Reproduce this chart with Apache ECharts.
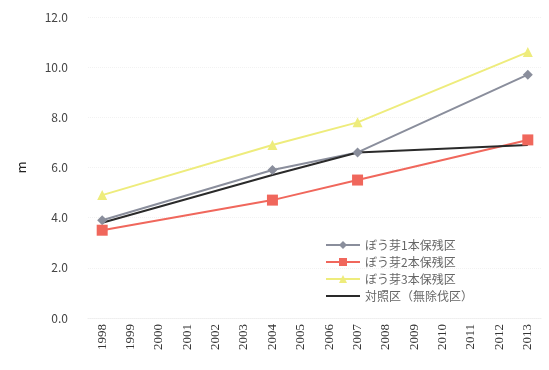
<!DOCTYPE html>
<html>
<head>
<meta charset="utf-8">
<script src="https://cdn.jsdelivr.net/npm/echarts@6/dist/echarts.min.js"></script>
<style>
  html, body { margin: 0; padding: 0; background: #fff; }
  #chart { width: 549px; height: 370px; }
</style>
</head>
<body>
<div id="chart"></div>
<script>
// Survey years on the category axis
const years = ['1998','1999','2000','2001','2002','2003','2004','2005','2006','2007','2008','2009','2010','2011','2012','2013'];

// Mean height (m) per plot; measured only in 1998, 2004, 2007 and 2013
const sprout1 = [3.9, null, null, null, null, null, 5.9, null, null, 6.6, null, null, null, null, null, 9.7];
const sprout2 = [3.5, null, null, null, null, null, 4.7, null, null, 5.5, null, null, null, null, null, 7.1];
const sprout3 = [4.9, null, null, null, null, null, 6.9, null, null, 7.8, null, null, null, null, null, 10.6];
const control = [3.8, null, null, null, null, null, 5.7, null, null, 6.6, null, null, null, null, null, 6.9];

const seriesNames = ['ぼう芽1本保残区', 'ぼう芽2本保残区', 'ぼう芽3本保残区', '対照区（無除伐区）'];

const chart = echarts.init(document.getElementById('chart'));

function lineSeries(name, data, color, symbol, size) {
  return {
    name: name,
    type: 'line',
    data: data,
    connectNulls: true,
    symbol: symbol,
    symbolSize: size,
    showSymbol: symbol !== 'none',
    lineStyle: { color: color, width: 2 },
    itemStyle: { color: color },
    z: 2
  };
}

chart.setOption({
  animation: false,
  textStyle: { fontFamily: '"Noto Sans CJK JP", "Open Sans", sans-serif' },
  grid: { left: 88, right: 7, top: 17, bottom: 52 },
  legend: {
    left: 320,
    top: 234,
    orient: 'vertical',
    itemGap: 5,
    itemWidth: 34,
    itemHeight: 10,
    textStyle: { color: '#666', fontSize: 12 },
    data: [
      seriesNames[0],
      seriesNames[1],
      seriesNames[2],
      // the control plot has no marker, so its key is a plain line
      { name: seriesNames[3], itemStyle: { opacity: 0 } }
    ]
  },
  xAxis: {
    type: 'category',
    data: years,
    boundaryGap: true,
    axisLine: { show: true, lineStyle: { color: '#eee', type: 'dotted' } },
    axisTick: { show: false },
    axisLabel: {
      rotate: 90,
      interval: 0,
      color: '#333',
      fontSize: 13,
      fontFamily: '"Liberation Serif", serif',
      margin: 6
    }
  },
  yAxis: {
    type: 'value',
    min: 0,
    max: 12,
    interval: 2,
    name: 'm',
    nameLocation: 'middle',
    nameRotate: 90,
    nameGap: 60,
    nameTextStyle: { color: '#222', fontSize: 13 },
    axisLine: { show: false },
    axisTick: { show: false },
    axisLabel: {
      color: '#444',
      fontSize: 12,
      margin: 20,
      formatter: v => v.toFixed(1)
    },
    splitLine: { show: true, lineStyle: { color: '#f2f2f2', type: 'dotted' } }
  },
  series: [
    lineSeries(seriesNames[0], sprout1, '#8a8e9c', 'diamond', 10),
    lineSeries(seriesNames[1], sprout2, '#f0675c', 'rect', 11),
    lineSeries(seriesNames[2], sprout3, '#eeec7c', 'triangle', 10),
    lineSeries(seriesNames[3], control, '#2a2a2a', 'none', 0)
  ]
});
</script>
</body>
</html>
